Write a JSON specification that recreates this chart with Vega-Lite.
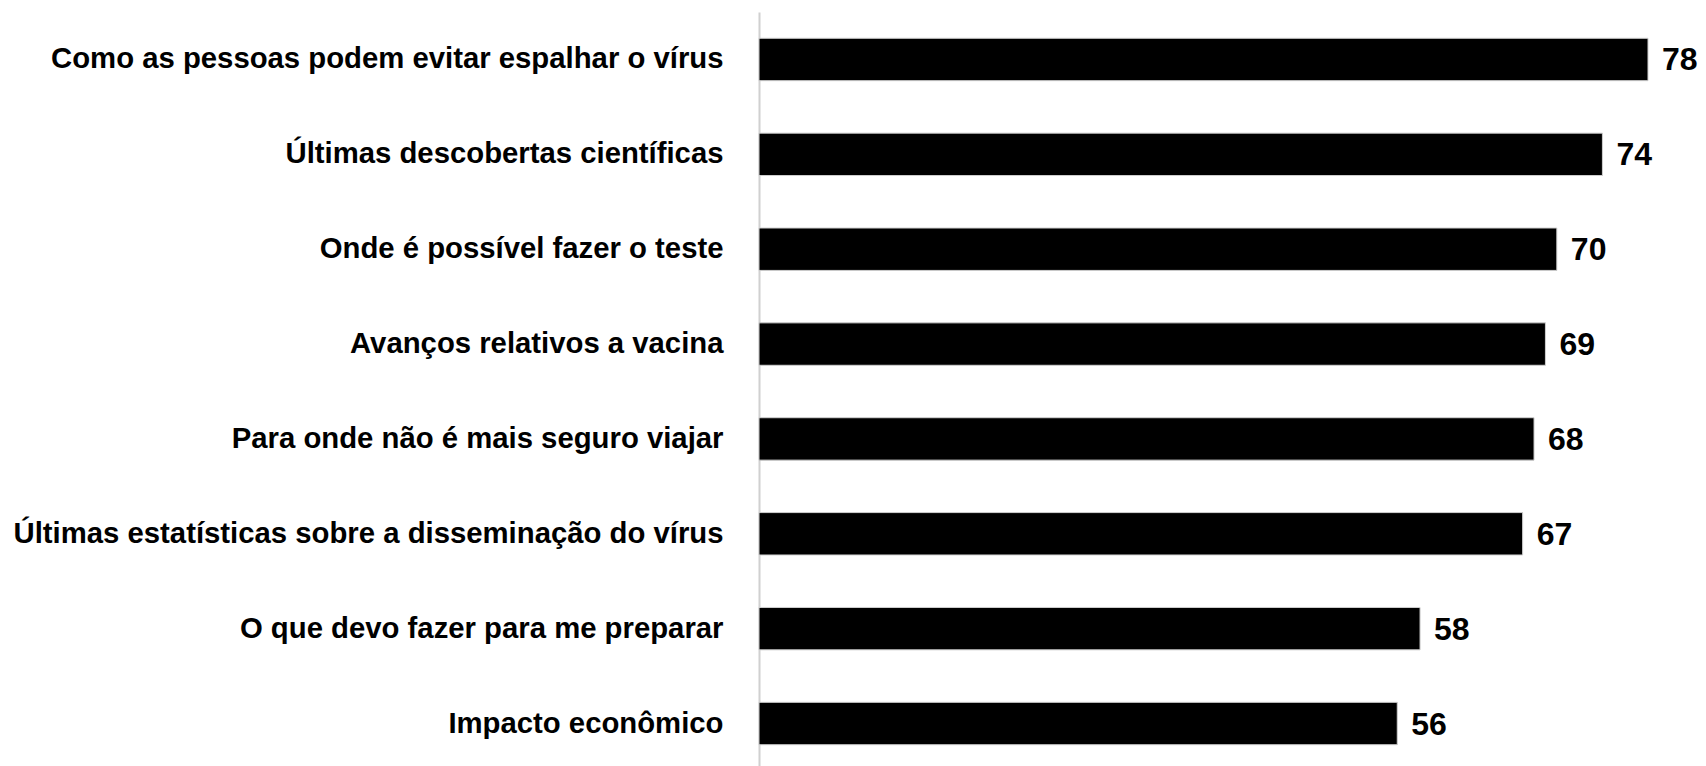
{
  "$schema": "https://vega.github.io/schema/vega-lite/v6.json",
  "width": 946,
  "height": 759,
  "autosize": {"type": "none"},
  "padding": {"left": 759, "top": 12, "right": 0, "bottom": 0},
  "background": "white",
  "config": {"view": {"stroke": null}},
  "data": {
    "values": [
      {"item": "Como as pessoas podem evitar espalhar o vírus", "value": 78},
      {"item": "Últimas descobertas científicas", "value": 74},
      {"item": "Onde é possível fazer o teste", "value": 70},
      {"item": "Avanços relativos a vacina", "value": 69},
      {"item": "Para onde não é mais seguro viajar", "value": 68},
      {"item": "Últimas estatísticas sobre a disseminação do vírus", "value": 67},
      {"item": "O que devo fazer para me preparar", "value": 58},
      {"item": "Impacto econômico", "value": 56}
    ]
  },
  "encoding": {
    "y": {
      "field": "item",
      "type": "nominal",
      "sort": null,
      "scale": {"paddingInner": 0.553, "paddingOuter": 0.277},
      "axis": {
        "title": null,
        "ticks": false,
        "labelPadding": 36,
        "labelFont": "Liberation Sans",
        "labelFontWeight": "bold",
        "labelFontSize": 29.3,
        "labelColor": "black",
        "labelLimit": 800,
        "domainColor": "#d0d0d0",
        "domainWidth": 2,
        "grid": false
      }
    },
    "x": {
      "field": "value",
      "type": "quantitative",
      "scale": {"domain": [0, 83], "nice": false},
      "axis": null
    }
  },
  "layer": [
    {
      "mark": {"type": "bar", "color": "black", "stroke": "#d0d0d0", "strokeWidth": 1}
    },
    {
      "mark": {"type": "text", "align": "left", "baseline": "middle", "dx": 14, "dy": 1, "font": "Liberation Sans", "fontWeight": "bold", "fontSize": 32, "color": "black"},
      "encoding": {"text": {"field": "value", "type": "quantitative"}}
    }
  ]
}
